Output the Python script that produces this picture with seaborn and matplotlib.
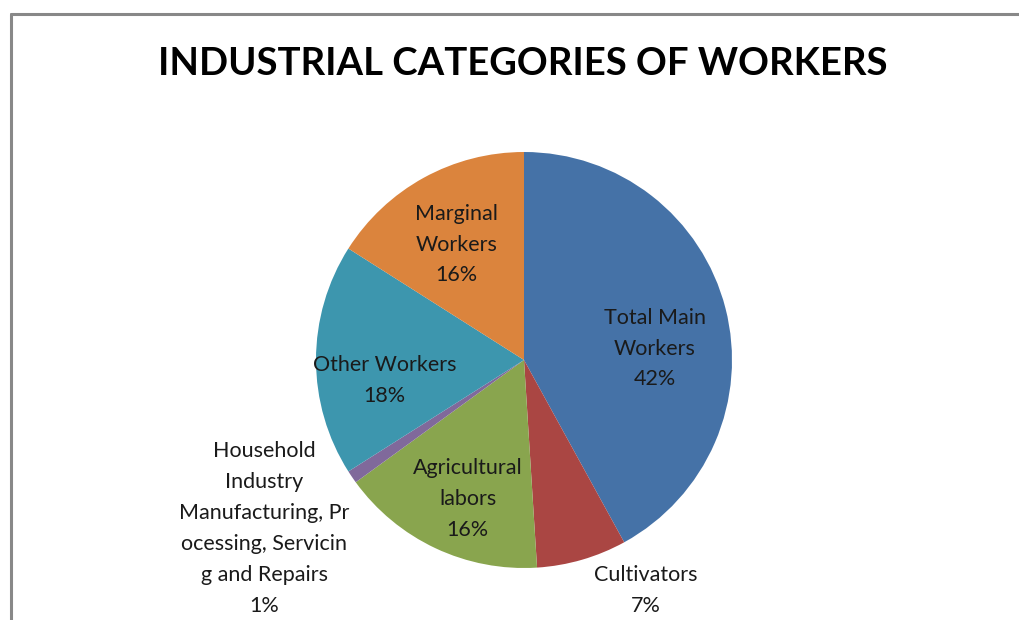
import matplotlib
matplotlib.use("Agg")
import matplotlib.pyplot as plt
from matplotlib.lines import Line2D
import seaborn as sns

# Data
categories = ["Total Main\nWorkers", "Cultivators", "Agricultural\nlabors",
              "Household\nIndustry\nManufacturing, Pr\nocessing, Servicin\ng and Repairs",
              "Other Workers", "Marginal\nWorkers"]
shares = [42, 7, 16, 1, 18, 16]
colors = ["#4572A7", "#AA4643", "#89A54E", "#80699B", "#3D96AE", "#DB843D"]

# label centres in pie units (radius = 1)
label_pos = [(0.63, 0.055), (0.585, -1.11), (-0.27, -0.67),
             (-1.25, -0.81), (-0.67, -0.1), (-0.325, 0.555)]

sns.set_theme(style="white")
plt.rcParams["font.family"] = ["Lato", "DejaVu Sans"]

fig = plt.figure(figsize=(10.2, 6.2), dpi=100)

# pie axes: centre ~(524, 360) px, radius ~208 px
ax = fig.add_axes([316 / 1020, 52 / 620, 416 / 1020, 416 / 620])
ax.pie(shares, colors=colors, startangle=90, counterclock=False,
       radius=1, wedgeprops=dict(linewidth=0))
ax.set_xlim(-1, 1)
ax.set_ylim(-1, 1)
ax.set_aspect("equal")
ax.axis("off")

for lab, val, (x, y) in zip(categories, shares, label_pos):
    ax.text(x, y, f"{lab}\n{val}%", ha="center", va="center",
            fontsize=15.5, color="#1a1a1a", linespacing=1.68, clip_on=False)

fig.text(523 / 1020, 1 - 64 / 620, "INDUSTRIAL CATEGORIES OF WORKERS",
         ha="center", va="center", fontsize=27.5, fontweight="bold", color="black")

# chart frame (only left and top edges visible)
fig.add_artist(Line2D([11 / 1020, 11 / 1020], [0, 1 - 14 / 620],
                      transform=fig.transFigure, color="#888888", lw=2.2))
fig.add_artist(Line2D([11 / 1020, 1], [1 - 14 / 620, 1 - 14 / 620],
                      transform=fig.transFigure, color="#888888", lw=2.2))

fig.savefig("out.png", dpi=100, facecolor="white")
